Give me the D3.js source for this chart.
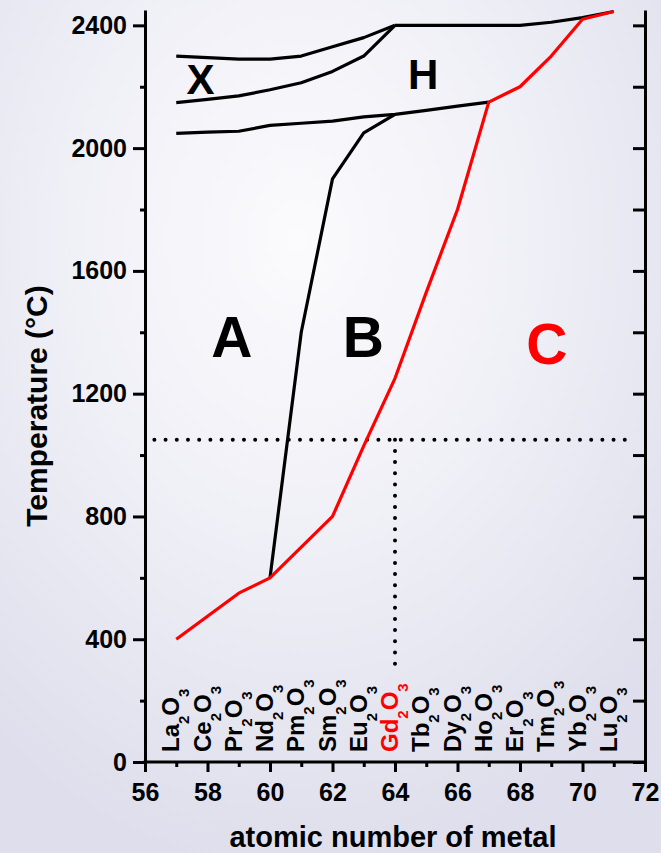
<!DOCTYPE html>
<html lang="en">
<head>
<meta charset="UTF-8">
<title>Ln2O3 polymorphs</title>
<script src="https://d3js.org/d3.v7.min.js"></script>
<style>
    body { margin: 0; background: #fff; }
    svg { display: block; font-family: "Liberation Sans", Arial, sans-serif; font-weight: bold; }
</style>
</head>
<body>
<div id="chart"></div>
<script>
// phase boundaries, atomic number vs temperature (°C)
var zX = [57, 58, 59, 60, 61, 62, 63, 64];
var tXupper = [2300, 2295, 2290, 2290, 2300, 2330, 2360, 2400];
var tXlower = [2148, 2159, 2170, 2190, 2213, 2250, 2300, 2400];

var zH = [57, 58, 59, 60, 61, 62, 63, 64, 65, 66, 67];
var tHlower = [2048, 2052, 2055, 2074, 2081, 2088, 2102, 2110, 2123, 2137, 2150];

var zTop = [64, 65, 66, 67, 68, 69, 70, 71];
var tTop = [2400, 2400, 2400, 2400, 2400, 2410, 2425, 2445];

var zAB = [60, 61, 62, 63, 64];
var tAB = [600, 1400, 1900, 2050, 2110];

var zC = [57, 58, 59, 60, 61, 62, 63, 64, 65, 66, 67, 68, 69, 70, 71];
var tC = [400, 475, 550, 600, 700, 800, 1030, 1250, 1530, 1800, 2150, 2200, 2300, 2420, 2445];

// dotted guide lines
var zGuideH = [56.3, 71.6], tGuideH = [1050, 1050];
var zGuideV = [64, 64], tGuideV = [1050, 310];

// oxides along the bottom
var oxideZ = [57, 58, 59, 60, 61, 62, 63, 64, 65, 66, 67, 68, 69, 70, 71];
var oxideEl = ["La", "Ce", "Pr", "Nd", "Pm", "Sm", "Eu", "Gd", "Tb", "Dy", "Ho", "Er", "Tm", "Yb", "Lu"];

// phase letters
var phaseNames = ["X", "H", "A", "B", "C"];
var phaseZ = [57.78, 64.9, 58.78, 62.99, 68.86];
var phaseT = [2175, 2193, 1320, 1320, 1298];

var yTicks = [0, 400, 800, 1200, 1600, 2000, 2400];
var xTicks = [56, 58, 60, 62, 64, 66, 68, 70, 72];

var W = 661, H = 853;
var svg = d3.select("#chart").append("svg").attr("width", W).attr("height", H);

var defs = svg.append("defs");
var grad = defs.append("radialGradient").attr("id", "bg")
    .attr("cx", "45%").attr("cy", "28%").attr("r", "75%");
grad.append("stop").attr("offset", "0%").attr("stop-color", "#fbfbfd");
grad.append("stop").attr("offset", "45%").attr("stop-color", "#f0f0f7");
grad.append("stop").attr("offset", "100%").attr("stop-color", "#dedeec");
svg.append("rect").attr("width", W).attr("height", H).attr("fill", "url(#bg)");

var x = d3.scaleLinear().domain([56, 72]).range([145, 645]);
var y = d3.scaleLinear().domain([0, 2450]).range([762, 10]);

var line = d3.line().x(d => x(d[0])).y(d => y(d[1]));
function pairs(zs, ts) { return zs.map((z, i) => [z, ts[i]]); }

// axes
var axW = 3;
svg.append("g").attr("transform", "translate(145,0)")
    .call(d3.axisLeft(y).tickValues(d3.range(200, 2450, 400)).tickSize(5).tickSizeOuter(0).tickFormat(""))
    .call(g => g.select(".domain").remove())
    .selectAll("line").attr("stroke-width", axW);
var yAx = svg.append("g").attr("transform", "translate(145,0)")
    .call(d3.axisLeft(y).tickValues(yTicks).tickSize(12).tickSizeOuter(0).tickPadding(6).tickFormat(d3.format("d")));
yAx.select(".domain").attr("stroke-width", axW);
yAx.selectAll("line").attr("stroke-width", axW);
yAx.selectAll("text").attr("font-size", 25).attr("font-weight", "bold").attr("fill", "#000")
    .attr("font-family", "Liberation Sans, Arial, sans-serif");

var rAx = svg.append("g").attr("transform", "translate(645,0)")
    .call(d3.axisRight(y).tickValues(d3.range(0, 2450, 200)).tickSize(-12).tickSizeOuter(0).tickFormat(""));
rAx.select(".domain").attr("stroke-width", axW);
rAx.selectAll("line").attr("stroke-width", axW);

svg.append("g").attr("transform", "translate(0,762)")
    .call(d3.axisBottom(x).tickValues(d3.range(57, 72, 2)).tickSize(5).tickSizeOuter(0).tickFormat(""))
    .call(g => g.select(".domain").remove())
    .selectAll("line").attr("stroke-width", axW);
var xAx = svg.append("g").attr("transform", "translate(0,762)")
    .call(d3.axisBottom(x).tickValues(xTicks).tickSize(10).tickSizeOuter(0).tickPadding(11).tickFormat(d3.format("d")));
xAx.select(".domain").attr("stroke-width", axW).attr("d", "M143.5,0H646.5");
xAx.selectAll("line").attr("stroke-width", axW);
xAx.selectAll("text").attr("font-size", 25).attr("font-weight", "bold").attr("fill", "#000")
    .attr("font-family", "Liberation Sans, Arial, sans-serif");

// axis titles
svg.append("text").attr("x", 393).attr("y", 847).attr("text-anchor", "middle")
    .attr("font-size", 29).text("atomic number of metal");
svg.append("text").attr("transform", "translate(47,406) rotate(-90)").attr("text-anchor", "middle")
    .attr("font-size", 30).text("Temperature (°C)");

// guide lines
[pairs(zGuideH, tGuideH), pairs(zGuideV, tGuideV)].forEach(p => {
    svg.append("path").attr("d", line(p)).attr("fill", "none").attr("stroke", "#000")
        .attr("stroke-width", 4).attr("stroke-linecap", "round").attr("stroke-dasharray", "0 11.2");
});

// phase boundaries
[pairs(zX, tXupper), pairs(zX, tXlower), pairs(zH, tHlower), pairs(zTop, tTop), pairs(zAB, tAB)].forEach(p => {
    svg.append("path").attr("d", line(p)).attr("fill", "none").attr("stroke", "#000")
        .attr("stroke-width", 3.2).attr("stroke-linejoin", "round");
});
svg.append("path").attr("d", line(pairs(zC, tC))).attr("fill", "none").attr("stroke", "#ff0000")
    .attr("stroke-width", 3.2).attr("stroke-linejoin", "round");

// phase letters
phaseNames.forEach((n, i) => {
    svg.append("text").attr("x", x(phaseZ[i])).attr("y", y(phaseT[i]))
        .attr("text-anchor", "middle")
        .attr("font-size", (n == "X" || n == "H") ? 42 : 57)
        .attr("fill", n == "C" ? "#ff0000" : "#000")
        .text(n);
});

// oxide labels, rotated
oxideEl.forEach((el, i) => {
    var t = svg.append("text")
        .attr("transform", `translate(${x(oxideZ[i]) + 3},752) rotate(-90)`)
        .attr("font-size", 24)
        .attr("fill", el == "Gd" ? "#ff0000" : "#000");
    t.append("tspan").text(el);
    t.append("tspan").attr("font-size", 15).attr("dy", 10).text("2");
    t.append("tspan").attr("dy", -10).text("O");
    t.append("tspan").attr("font-size", 15).attr("dy", 10).text("3");
});
</script>
</body>
</html>
